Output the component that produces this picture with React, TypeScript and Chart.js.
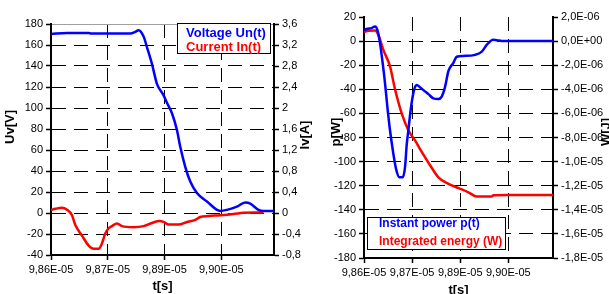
import React, { useEffect, useRef } from "react";
import { Chart, registerables } from "chart.js";

Chart.register(...registerables);

const FONT = "'Liberation Sans', Arial, Helvetica, sans-serif";
const BLUE = "#0000ff";
const RED = "#ff0000";

// ---------- Left chart: voltage / current ----------
const voltageTime = [
  9.86e-5, 9.86394e-5, 9.86929e-5, 9.8697e-5, 9.87956e-5, 9.88079e-5, 9.88161e-5,
  9.88284e-5, 9.88366e-5, 9.8849e-5, 9.88613e-5, 9.88777e-5, 9.88859e-5, 9.88983e-5,
  9.89106e-5, 9.89188e-5, 9.89311e-5, 9.89435e-5, 9.89599e-5, 9.89845e-5, 9.90174e-5,
  9.90338e-5, 9.90585e-5, 9.9079e-5, 9.90914e-5, 9.91119e-5, 9.91242e-5, 9.91489e-5,
];
const voltage = [
  170.5, 171.5, 171.5, 171, 171, 172.5, 174, 168, 158, 142, 123, 112, 105, 95, 79, 63,
  44, 30, 19, 11, 2, 3, 6, 10, 9, 3, 2, 2,
];
const currentTime = [
  9.86e-5, 9.86107e-5, 9.86271e-5, 9.86394e-5, 9.86518e-5, 9.866e-5, 9.86764e-5,
  9.86929e-5, 9.87052e-5, 9.87175e-5, 9.87257e-5, 9.87339e-5, 9.87422e-5, 9.87504e-5,
  9.87627e-5, 9.8775e-5, 9.88038e-5, 9.88284e-5, 9.8849e-5, 9.88679e-5, 9.88777e-5,
  9.88901e-5, 9.89147e-5, 9.89353e-5, 9.89558e-5, 9.89681e-5, 9.89887e-5, 9.90174e-5,
  9.90503e-5, 9.90749e-5, 9.90996e-5, 9.91242e-5,
];
const current = [
  0.057, 0.08, 0.1, 0.063, -0.044, -0.23, -0.43, -0.62, -0.68, -0.68, -0.58, -0.39,
  -0.29, -0.25, -0.2, -0.25, -0.27, -0.25, -0.19, -0.15, -0.17, -0.22, -0.22, -0.17,
  -0.13, -0.076, -0.057, -0.044, -0.02, 0.006, 0.01, 0.01,
];

// ---------- Right chart: power / energy ----------
const powerTime = [
  9.86e-5, 9.86078e-5, 9.86223e-5, 9.8632e-5, 9.86388e-5, 9.86466e-5, 9.86544e-5,
  9.86612e-5, 9.8668e-5, 9.86757e-5, 9.86854e-5, 9.86932e-5, 9.87029e-5, 9.87126e-5,
  9.87194e-5, 9.87243e-5, 9.87291e-5, 9.87359e-5, 9.87417e-5, 9.87485e-5, 9.87534e-5,
  9.8768e-5, 9.87874e-5, 9.88019e-5, 9.88165e-5, 9.88262e-5, 9.88359e-5, 9.88456e-5,
  9.88602e-5, 9.88699e-5, 9.88893e-5, 9.89233e-5, 9.89427e-5, 9.89573e-5, 9.8967e-5,
  9.89748e-5, 9.89864e-5, 9.90058e-5, 9.915e-5,
];
const power = [
  8.9, 10, 10.8, 12.2, 9.4, -1.7, -18.4, -35, -54.5, -74, -93.5, -106, -113, -113,
  -104.6, -86, -74, -57, -46, -38, -36.5, -39.5, -44, -47.5, -48, -46, -38, -25, -18,
  -13, -12.3, -11.4, -8.7, -3, -0.3, 1.2, 0.8, 0, 0,
];
const energyTime = [
  9.86e-5, 9.86126e-5, 9.8632e-5, 9.86417e-5, 9.86563e-5, 9.86757e-5, 9.86903e-5,
  9.87097e-5, 9.87291e-5, 9.87485e-5, 9.8768e-5, 9.87922e-5, 9.88165e-5, 9.88456e-5,
  9.88748e-5, 9.89039e-5, 9.89282e-5, 9.89718e-5, 9.89767e-5, 9.90155e-5, 9.915e-5,
];
const energy = [
  7.5e-7, 8.6e-7, 8.9e-7, 5.3e-7, -7.3e-7, -2.1e-6, -4.0e-6, -6.0e-6, -7.4e-6, -8.24e-6,
  -9.2e-6, -1.03e-5, -1.13e-5, -1.185e-5, -1.22e-5, -1.255e-5, -1.29e-5, -1.29e-5,
  -1.28e-5, -1.277e-5, -1.277e-5,
];

// ---------- Tick values ----------
const T_MIN = 9.86e-5;
const T_MAX = 9.915e-5;
const timeTicks = [9.86e-5, 9.874e-5, 9.888e-5, 9.902e-5];
const voltageTicks = [180, 160, 140, 120, 100, 80, 60, 40, 20, 0, -20, -40];
const currentTicks = [3.6, 3.2, 2.8, 2.4, 2.0, 1.6, 1.2, 0.8, 0.4, 0, -0.4, -0.8];
const powerTicks = [20, 0, -20, -40, -60, -80, -100, -120, -140, -160, -180];
const energyTicks = [
  2e-6, 0, -2e-6, -4e-6, -6e-6, -8e-6, -1e-5, -1.2e-5, -1.4e-5, -1.6e-5, -1.8e-5,
];

const sci = (v: number, d: number) => {
  const [m, e] = v.toExponential(d).split("e");
  const n = parseInt(e, 10);
  return m.replace(".", ",") + "E" + (n < 0 ? "-" : "+") + String(Math.abs(n)).padStart(2, "0");
};
const dec = (v: number) => String(+v.toFixed(1)).replace(".", ",");

const tickFont = { family: FONT, size: 11 };
const DASH = [14, 8];

function fixedAxis(ticks: number[], size: number, horizontal: boolean) {
  return {
    afterBuildTicks: (s: any) => {
      s.ticks = ticks.map((v) => ({ value: v }));
    },
    afterFit: (s: any) => {
      if (horizontal) s.height = size;
      else s.width = size;
    },
  };
}

type Item = { text: string; color: string };
type OverlayCfg = {
  legend: { x: number; y: number; w: number; h: number; padX: number; firstY: number; lineH: number; size: number; items: Item[] };
  titles: { text: string; x: number; y: number }[];
};

function makeOverlay(cfg: OverlayCfg) {
  return {
    id: "overlay",
    afterDraw(chart: any) {
      const ctx = chart.ctx as CanvasRenderingContext2D;
      ctx.save();
      const L = cfg.legend;
      ctx.fillStyle = "#fff";
      ctx.fillRect(L.x, L.y, L.w, L.h);
      ctx.strokeStyle = "#000";
      ctx.lineWidth = 1;
      ctx.strokeRect(L.x + 0.5, L.y + 0.5, L.w - 1, L.h - 1);
      ctx.font = `bold ${L.size}px ${FONT}`;
      ctx.textBaseline = "middle";
      ctx.textAlign = "left";
      L.items.forEach((it, i) => {
        ctx.fillStyle = it.color;
        ctx.fillText(it.text, L.x + L.padX, L.y + L.firstY + i * L.lineH);
      });
      cfg.titles.forEach((t) => {
        ctx.save();
        ctx.translate(t.x, t.y);
        ctx.rotate(-Math.PI / 2);
        ctx.font = `bold 13px ${FONT}`;
        ctx.fillStyle = "#000";
        ctx.textAlign = "center";
        ctx.textBaseline = "middle";
        ctx.fillText(t.text, 0, 0);
        ctx.restore();
      });
      ctx.restore();
    },
  };
}

function xScale(height: number) {
  return {
    type: "linear",
    min: T_MIN,
    max: T_MAX,
    ...fixedAxis(timeTicks, height, true),
    ticks: {
      font: tickFont,
      color: "#000",
      padding: 3,
      maxRotation: 0,
      autoSkip: false,
      callback: (v: any) => sci(Number(v), 2),
    },
    grid: { color: "#000", lineWidth: 1, tickLength: 5, tickColor: "#000", tickWidth: 1.5, tickBorderDash: [] },
    border: { color: "#000", width: 2, dash: DASH },
    title: {
      display: true,
      text: "t[s]",
      color: "#000",
      font: { family: FONT, size: 13, weight: "bold", lineHeight: 1.1 },
      padding: 0,
    },
  };
}

function yScale(opts: {
  ticks: number[];
  width: number;
  min: number;
  max: number;
  position: "left" | "right";
  fmt: (v: number) => string;
  main: boolean;
  topColor: string;
  padding?: number;
}) {
  const top = opts.ticks[0];
  return {
    type: "linear",
    position: opts.position,
    min: opts.min,
    max: opts.max,
    ...fixedAxis(opts.ticks, opts.width, false),
    ticks: {
      font: tickFont,
      color: "#000",
      padding: opts.padding ?? 3,
      autoSkip: false,
      callback: (v: any) => opts.fmt(Number(v)),
    },
    grid: {
      drawOnChartArea: opts.main,
      color: (c: any) => (c.tick && c.tick.value === top ? opts.topColor : "#000"),
      lineWidth: 1,
      tickLength: 5,
      tickColor: "#000",
      tickWidth: 1.5,
      tickBorderDash: [],
    },
    border: {
      color: "#000",
      width: 2,
      dash: (c: any) => (c.tick && c.tick.value === top ? [] : DASH),
    },
  };
}

export default function App() {
  const leftRef = useRef<HTMLCanvasElement>(null);
  const rightRef = useRef<HTMLCanvasElement>(null);

  useEffect(() => {
    const left = new Chart(leftRef.current as HTMLCanvasElement, {
      type: "line",
      data: {
        datasets: [
          {
            label: "Voltage Un(t)",
            data: voltageTime.map((t, i) => ({ x: t, y: voltage[i] })),
            borderColor: BLUE,
            borderWidth: 2.5,
            pointRadius: 0,
            cubicInterpolationMode: "monotone",
            yAxisID: "y",
          },
          {
            label: "Current In(t)",
            data: currentTime.map((t, i) => ({ x: t, y: current[i] })),
            borderColor: RED,
            borderWidth: 2.5,
            pointRadius: 0,
            cubicInterpolationMode: "monotone",
            yAxisID: "y1",
          },
        ],
      } as any,
      options: {
        responsive: false,
        animation: false,
        devicePixelRatio: 1,
        layout: { padding: { top: 24, left: 0, right: 0, bottom: 0 } },
        plugins: { legend: { display: false }, tooltip: { enabled: false } },
        scales: {
          x: xScale(39),
          y: yScale({ ticks: voltageTicks, width: 51, min: -40, max: 180, position: "left", fmt: (v) => String(v), main: true, topColor: "#a0a0a0" }),
          y1: yScale({ ticks: currentTicks, width: 41, min: -0.8, max: 3.6, position: "right", fmt: dec, main: false, topColor: "#a0a0a0" }),
        } as any,
      },
      plugins: [
        makeOverlay({
          legend: {
            x: 177, y: 23, w: 94, h: 31, padX: 9, firstY: 10, lineH: 14, size: 13,
            items: [
              { text: "Voltage Un(t)", color: BLUE },
              { text: "Current In(t)", color: RED },
            ],
          },
          titles: [
            { text: "Uv[V]", x: 10, y: 127 },
            { text: "Iv[A]", x: 305.5, y: 135 },
          ],
        }),
      ],
    });

    const right = new Chart(rightRef.current as HTMLCanvasElement, {
      type: "line",
      data: {
        datasets: [
          {
            label: "Instant power p(t)",
            data: powerTime.map((t, i) => ({ x: t, y: power[i] })),
            borderColor: BLUE,
            borderWidth: 2.5,
            pointRadius: 0,
            cubicInterpolationMode: "monotone",
            yAxisID: "y",
          },
          {
            label: "Integrated energy (W)",
            data: energyTime.map((t, i) => ({ x: t, y: energy[i] })),
            borderColor: RED,
            borderWidth: 2.5,
            pointRadius: 0,
            cubicInterpolationMode: "monotone",
            yAxisID: "y1",
          },
        ],
      } as any,
      options: {
        responsive: false,
        animation: false,
        devicePixelRatio: 1,
        layout: { padding: { top: 17, left: 0, right: 0, bottom: 0 } },
        plugins: { legend: { display: false }, tooltip: { enabled: false } },
        scales: {
          x: xScale(40),
          y: yScale({ ticks: powerTicks, width: 49, min: -180, max: 20, position: "left", fmt: (v) => String(v), main: true, topColor: "rgba(0,0,0,0)" }),
          y1: yScale({ ticks: energyTicks, width: 62, min: -1.8e-5, max: 2e-6, position: "right", fmt: (v) => sci(v, 1), main: false, topColor: "rgba(0,0,0,0)" }),
        } as any,
      },
      plugins: [
        makeOverlay({
          legend: {
            x: 52, y: 217, w: 139, h: 33, padX: 12, firstY: 7, lineH: 17.5, size: 12,
            items: [
              { text: "Instant power p(t)", color: BLUE },
              { text: "Integrated energy (W)", color: RED },
            ],
          },
          titles: [
            { text: "p[W]", x: 21, y: 132 },
            { text: "W[J]", x: 291, y: 132 },
          ],
        }),
      ],
    });

    return () => {
      left.destroy();
      right.destroy();
    };
  }, []);

  return (
    <div
      style={{
        position: "fixed",
        left: 0,
        top: 0,
        width: 609,
        height: 294,
        overflow: "hidden",
        background: "#fff",
      }}
    >
      <canvas ref={leftRef} width={315} height={294} style={{ position: "absolute", left: 0, top: 0 }} />
      <canvas ref={rightRef} width={300} height={298} style={{ position: "absolute", left: 315, top: 0 }} />
    </div>
  );
}
